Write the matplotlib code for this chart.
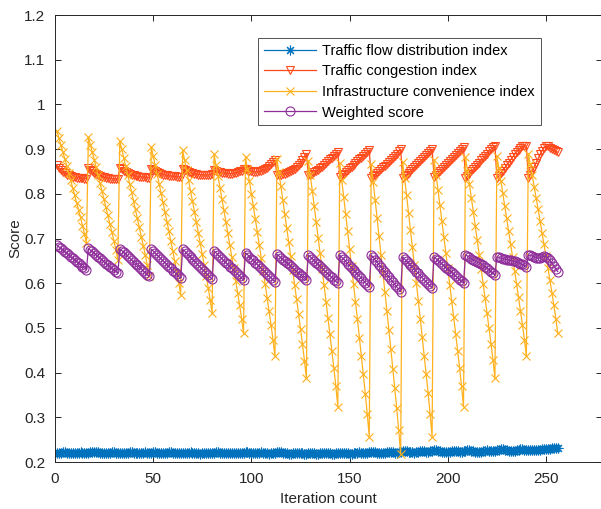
import numpy as np
import matplotlib
matplotlib.use('Agg')
import matplotlib.pyplot as plt

# values, one row per 16-iteration block
flow_index = [
    [.220, .221, .221, .222, .222, .221, .221, .220, .220, .220, .221, .221, .222, .221, .221, .220],
    [.221, .222, .222, .223, .222, .222, .221, .221, .220, .220, .221, .221, .222, .222, .221, .221],
    [.221, .221, .220, .220, .221, .222, .222, .221, .221, .220, .220, .221, .221, .222, .221, .220],
    [.221, .222, .222, .221, .221, .220, .220, .221, .221, .222, .222, .221, .220, .220, .221, .221],
    [.220, .220, .221, .221, .222, .221, .221, .220, .220, .219, .220, .220, .221, .221, .220, .220],
    [.221, .222, .222, .221, .220, .220, .221, .221, .220, .220, .221, .221, .220, .220, .221, .221],
    [.222, .222, .221, .221, .220, .220, .221, .221, .222, .221, .220, .220, .219, .220, .220, .221],
    [.222, .223, .222, .221, .220, .220, .219, .219, .220, .220, .221, .221, .220, .220, .219, .219],
    [.220, .221, .221, .220, .219, .219, .220, .220, .221, .221, .220, .220, .219, .219, .220, .220],
    [.220, .221, .221, .220, .220, .219, .219, .220, .221, .221, .222, .221, .220, .220, .221, .222],
    [.222, .223, .222, .221, .221, .220, .220, .221, .222, .222, .223, .222, .221, .221, .222, .223],
    [.224, .225, .224, .223, .222, .222, .221, .222, .223, .224, .225, .224, .223, .223, .224, .225],
    [.226, .226, .225, .224, .223, .223, .222, .222, .223, .224, .225, .225, .224, .223, .223, .224],
    [.225, .226, .226, .225, .224, .223, .222, .222, .223, .224, .225, .226, .225, .224, .224, .225],
    [.226, .227, .228, .228, .227, .226, .225, .224, .224, .225, .226, .227, .228, .228, .227, .226],
    [.226, .226, .227, .227, .226, .226, .227, .228, .229, .229, .230, .230, .231, .231, .232, .232],
]

congestion_index = [
    [.864, .858, .853, .849, .846, .843, .841, .840, .838, .837, .836, .836, .835, .835, .834, .834],
    [.857, .854, .850, .847, .844, .842, .840, .838, .837, .836, .835, .834, .834, .833, .833, .833],
    [.858, .855, .851, .848, .846, .844, .842, .841, .840, .839, .838, .838, .837, .837, .836, .836],
    [.856, .853, .850, .848, .846, .845, .843, .842, .841, .840, .840, .839, .839, .838, .838, .838],
    [.855, .853, .851, .849, .847, .846, .845, .844, .843, .843, .842, .842, .842, .842, .843, .844],
    [.853, .851, .849, .848, .847, .846, .846, .845, .845, .845, .846, .847, .848, .850, .852, .855],
    [.856, .853, .851, .850, .849, .849, .849, .850, .851, .853, .855, .858, .862, .866, .871, .876],
    [.843, .843, .843, .844, .845, .846, .848, .850, .853, .856, .860, .864, .869, .875, .882, .890],
    [.842, .843, .845, .848, .851, .854, .857, .861, .865, .869, .873, .877, .881, .885, .890, .894],
    [.838, .841, .845, .849, .853, .857, .861, .865, .869, .873, .877, .881, .885, .889, .894, .898],
    [.835, .839, .843, .847, .851, .855, .859, .863, .867, .871, .875, .880, .885, .890, .895, .900],
    [.835, .839, .843, .847, .852, .856, .860, .864, .868, .873, .877, .882, .887, .892, .896, .900],
    [.838, .842, .846, .851, .855, .860, .864, .869, .873, .878, .883, .887, .892, .896, .901, .905],
    [.835, .840, .845, .850, .855, .860, .865, .870, .875, .880, .885, .890, .895, .900, .904, .907],
    [.835, .840, .846, .852, .858, .864, .870, .876, .882, .888, .894, .899, .903, .906, .907, .907],
    [.835, .843, .852, .861, .870, .879, .888, .896, .903, .907, .906, .903, .900, .897, .895, .893],
]

infra_index = [
    [.940, .925, .909, .894, .878, .862, .846, .830, .813, .797, .780, .764, .747, .729, .710, .690],
    [.927, .910, .893, .876, .859, .841, .824, .806, .788, .770, .752, .733, .714, .695, .675, .652],
    [.918, .900, .881, .862, .843, .823, .804, .784, .765, .745, .725, .704, .684, .663, .640, .615],
    [.905, .885, .865, .844, .823, .802, .781, .759, .738, .716, .694, .672, .649, .626, .601, .574],
    [.897, .875, .853, .830, .807, .783, .760, .736, .713, .689, .665, .640, .616, .590, .563, .533],
    [.888, .864, .839, .814, .789, .763, .738, .712, .686, .659, .633, .606, .579, .551, .521, .488],
    [.882, .855, .828, .800, .772, .743, .715, .686, .657, .627, .598, .568, .538, .507, .473, .437],
    [.877, .848, .817, .786, .755, .724, .693, .661, .629, .597, .564, .532, .498, .464, .427, .387],
    [.874, .841, .807, .772, .738, .702, .667, .631, .596, .559, .523, .486, .449, .410, .369, .324],
    [.868, .831, .793, .755, .716, .677, .638, .599, .559, .519, .478, .437, .396, .353, .307, .257],
    [.866, .827, .787, .746, .705, .664, .622, .580, .538, .495, .453, .409, .365, .320, .271, .218],
    [.872, .835, .797, .758, .719, .680, .641, .601, .561, .520, .480, .438, .397, .354, .307, .257],
    [.876, .843, .809, .774, .739, .704, .668, .633, .597, .560, .524, .487, .449, .411, .369, .324],
    [.882, .852, .822, .790, .759, .728, .696, .664, .632, .599, .566, .533, .499, .465, .428, .387],
    [.884, .857, .829, .801, .773, .745, .716, .687, .658, .628, .599, .569, .538, .507, .474, .437],
    [.890, .866, .841, .816, .790, .765, .739, .713, .687, .660, .634, .607, .579, .551, .521, .488],
]

weighted_score = [
    [.685, .681, .678, .674, .670, .667, .663, .659, .656, .652, .648, .645, .641, .637, .634, .630],
    [.678, .674, .671, .667, .663, .659, .656, .652, .648, .644, .641, .637, .633, .629, .626, .622],
    [.677, .673, .669, .665, .660, .656, .652, .648, .644, .640, .636, .632, .627, .623, .619, .615],
    [.676, .672, .667, .663, .659, .654, .650, .646, .641, .637, .633, .628, .624, .620, .615, .611],
    [.676, .672, .667, .663, .658, .654, .649, .645, .640, .636, .631, .627, .622, .618, .613, .609],
    [.672, .668, .663, .659, .655, .650, .646, .642, .637, .633, .629, .624, .620, .616, .611, .607],
    [.668, .664, .659, .655, .651, .646, .642, .638, .633, .629, .625, .620, .616, .612, .607, .603],
    [.665, .661, .657, .653, .650, .646, .642, .638, .634, .630, .626, .622, .619, .615, .611, .607],
    [.663, .659, .655, .650, .646, .642, .638, .634, .629, .625, .621, .617, .613, .608, .604, .600],
    [.663, .658, .654, .649, .644, .639, .635, .630, .625, .620, .616, .611, .606, .601, .597, .592],
    [.663, .658, .652, .647, .641, .636, .630, .625, .619, .614, .608, .603, .597, .592, .586, .581],
    [.659, .654, .650, .645, .640, .636, .631, .626, .622, .617, .612, .608, .603, .598, .594, .589],
    [.659, .655, .651, .647, .643, .639, .635, .631, .628, .624, .620, .616, .612, .608, .604, .600],
    [.663, .661, .658, .655, .652, .649, .647, .645, .643, .640, .637, .634, .630, .626, .622, .618],
    [.659, .658, .656, .655, .654, .653, .652, .651, .650, .649, .648, .646, .644, .642, .640, .637],
    [.663, .662, .661, .659, .657, .656, .657, .659, .660, .659, .656, .651, .645, .638, .632, .626],
]

labels = ['Traffic flow distribution index', 'Traffic congestion index',
          'Infrastructure convenience index', 'Weighted score']
colors = ['#0072BD', '#FF4A1C', '#FFB11E', '#8E2C9A']
markers = [(8, 2, 0), 'v', 'x', 'o']
x_ticks = [0, 50, 100, 150, 200, 250]
y_ticks = [0.2, 0.3, 0.4, 0.5, 0.6, 0.7, 0.8, 0.9, 1.0, 1.1, 1.2]
y_tick_labels = ['0.2', '0.3', '0.4', '0.5', '0.6', '0.7', '0.8', '0.9', '1', '1.1', '1.2']

plt.rcParams['font.family'] = ['Liberation Sans', 'DejaVu Sans']

series = [np.ravel(flow_index), np.ravel(congestion_index),
          np.ravel(infra_index), np.ravel(weighted_score)]
iters = np.arange(1, len(series[0]) + 1)

fig = plt.figure(figsize=(6.01, 5.09), dpi=100)
ax = fig.add_axes([55 / 601, 1 - 462 / 509, 547 / 601, 447 / 509])

sizes = [7, 6, 6, 6.5]
for vals, lab, col, mk, ms in zip(series, labels, colors, markers, sizes):
    ax.plot(iters, vals, color=col, marker=mk, markersize=ms, linewidth=0.9,
            markerfacecolor='none', markeredgecolor=col, markeredgewidth=0.8,
            label=lab)

ax.set_xlim(0, 547 / 1.964)
ax.set_ylim(0.2, 1.2)
ax.set_xticks(x_ticks)
ax.set_yticks(y_ticks)
ax.set_yticklabels(y_tick_labels)
ax.tick_params(direction='in', top=True, right=True, length=4, width=0.7,
               labelsize=11, colors='#262626', pad=7)
for sp in ax.spines.values():
    sp.set_linewidth(0.7)
    sp.set_color('#262626')

ax.set_xlabel('Iteration count', fontsize=11, color='#262626')
ax.set_ylabel('Score', fontsize=11, color='#262626')
ax.xaxis.set_label_coords(0.5, -30 / 447)
ax.yaxis.set_label_coords(-33 / 547, 0.5)

leg = ax.legend(loc='upper left', bbox_to_anchor=((258 - 55) / 547, (462 - 38) / 447),
                fontsize=10.5, frameon=True, fancybox=False, edgecolor='#262626',
                handlelength=3.6, handletextpad=0.4, labelspacing=0.45,
                borderpad=0.4, borderaxespad=0)
leg.get_frame().set_linewidth(0.7)

fig.savefig('out.png', dpi=100)
